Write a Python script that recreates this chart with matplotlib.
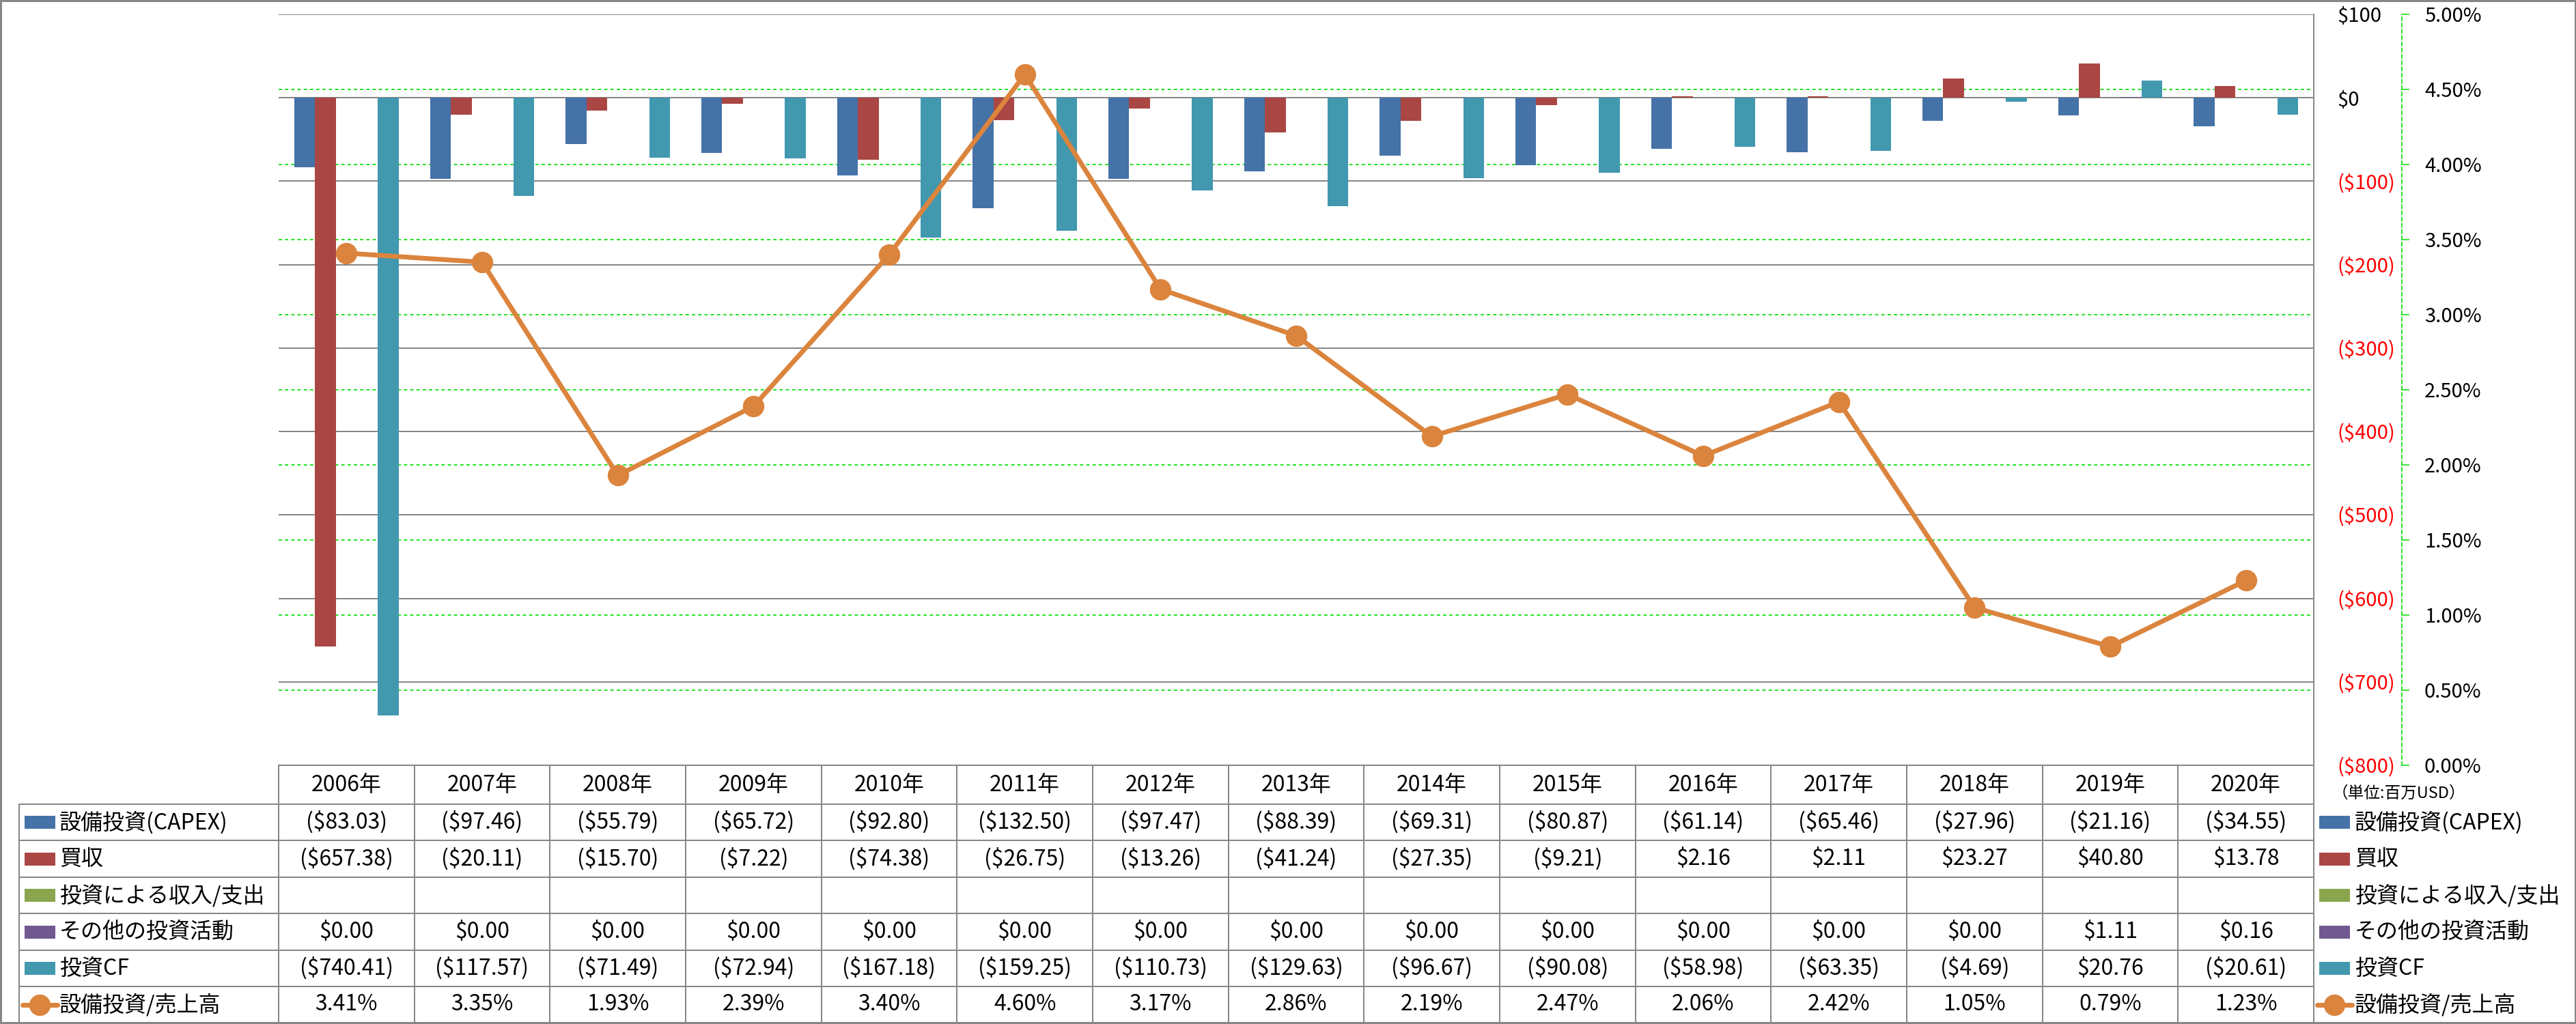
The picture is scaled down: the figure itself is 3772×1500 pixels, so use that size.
import matplotlib
matplotlib.use('Agg')
import matplotlib.pyplot as plt
import numpy as np
from matplotlib.lines import Line2D
from matplotlib.patches import Rectangle
from matplotlib.transforms import blended_transform_factory

plt.rcParams['font.family'] = ['Noto Sans CJK JP', 'DejaVu Sans']

# data (百万USD)
years = [2006, 2007, 2008, 2009, 2010, 2011, 2012, 2013, 2014, 2015, 2016, 2017, 2018, 2019, 2020]
year_labels = [f'{y}年' for y in years]
capex = [-83.03, -97.46, -55.79, -65.72, -92.80, -132.50, -97.47, -88.39, -69.31, -80.87, -61.14, -65.46, -27.96, -21.16, -34.55]
acquisitions = [-657.38, -20.11, -15.70, -7.22, -74.38, -26.75, -13.26, -41.24, -27.35, -9.21, 2.16, 2.11, 23.27, 40.80, 13.78]
invest_income = [None] * 15
other_invest = [0, 0, 0, 0, 0, 0, 0, 0, 0, 0, 0, 0, 0, 1.11, 0.16]
invest_cf = [-740.41, -117.57, -71.49, -72.94, -167.18, -159.25, -110.73, -129.63, -96.67, -90.08, -58.98, -63.35, -4.69, 20.76, -20.61]
capex_ratio = [3.41, 3.35, 1.93, 2.39, 3.40, 4.60, 3.17, 2.86, 2.19, 2.47, 2.06, 2.42, 1.05, 0.79, 1.23]

bar_names = ['設備投資(CAPEX)', '買収', '投資による収入/支出', 'その他の投資活動', '投資CF']
bar_series = [capex, acquisitions, invest_income, other_invest, invest_cf]
line_name = '設備投資/売上高'
unit_text = '（単位:百万USD）'

dollar_ticks = list(range(-800, 101, 100))
pct_ticks = [i * 0.5 for i in range(11)]

colors = ['#4572A7', '#AA4643', '#89A54E', '#71588F', '#4198AF']
line_color = '#DB843D'
gray = '#868686'
green = '#00DD00'

# layout in pixels
W, H, DPI = 3773, 1500, 100
PX = 72 / DPI


def fx(p):
    return p / W


def fy(p):
    return 1 - p / H


plot_l, plot_r, plot_t, plot_b = 408, 3388, 21, 1121
label_l = 28
row_edges = [1121, 1178, 1231, 1285, 1338, 1392, 1445, 1498]
font_table = 23
font_tick = 21

fig = plt.figure(figsize=(W / DPI, H / DPI), dpi=DPI)
rect = [fx(plot_l), fy(plot_b), fx(plot_r) - fx(plot_l), fy(plot_t) - fy(plot_b)]
axp = fig.add_axes(rect, zorder=0)
ax = fig.add_axes(rect, zorder=1)
axl = fig.add_axes(rect, zorder=2)

x = np.arange(len(years))
for a in (axp, ax, axl):
    a.set_xlim(-0.5, len(years) - 0.5)
    a.set_xticks([])
    a.patch.set_visible(False)

# percent axis (behind the bars)
axp.set_ylim(0, 5)
axp.yaxis.tick_right()
axp.set_yticks(pct_ticks, labels=[f'{v:.2f}%' for v in pct_ticks])
axp.tick_params(axis='y', direction='out', length=11 * PX, width=1.5 * PX, color=green,
                pad=22 * PX, labelsize=font_tick)
axp.grid(True, axis='y', color=green, linestyle=(0, (3, 2.5)), linewidth=1.2)
for s in ['left', 'top', 'bottom']:
    axp.spines[s].set_visible(False)
axp.spines['right'].set_position(('outward', 129 * PX))
axp.spines['right'].set_color(green)
axp.spines['right'].set_linestyle((0, (3, 2.5)))
axp.spines['right'].set_linewidth(1.2)

# dollar axis with the bars
ax.set_ylim(-800, 100)
ax.yaxis.tick_right()
ax.set_yticks(dollar_ticks,
              labels=[f'${v}' if v >= 0 else f'(${-v})' for v in dollar_ticks])
ax.tick_params(axis='y', length=0, pad=(3422 - plot_r) * PX, labelsize=font_tick)
for tick, v in zip(ax.yaxis.get_major_ticks(), dollar_ticks):
    for lbl in (tick.label1, tick.label2):
        lbl.set_color('#FF0000' if v < 0 else 'black')
ax.grid(True, axis='y', color=gray, linewidth=2 * PX)
ax.set_axisbelow(True)
for s in ['left', 'top', 'bottom']:
    ax.spines[s].set_visible(False)
ax.spines['right'].set_color(gray)
ax.spines['right'].set_linewidth(2 * PX)

bw = 1 / 6.5
for k, (vals, c) in enumerate(zip(bar_series, colors)):
    h = np.array([np.nan if v is None else v for v in vals], dtype=float)
    ax.bar(x + (k - 2) * bw, h, width=bw, color=c, linewidth=0, zorder=2)

# ratio line
axl.set_ylim(0, 5)
axl.axis('off')
axl.plot(x, capex_ratio, color=line_color, linewidth=7 * PX, marker='o',
         markersize=30 * PX, markerfacecolor=line_color, markeredgecolor=line_color)

# data table
col_tr = blended_transform_factory(ax.transData, fig.transFigure)
line_kw = dict(color=gray, linewidth=2 * PX)
fig.add_artist(Line2D([fx(plot_l), fx(plot_r)], [fy(row_edges[0])] * 2, **line_kw))
for r in row_edges[1:]:
    fig.add_artist(Line2D([fx(label_l), fx(plot_r)], [fy(r)] * 2, **line_kw))
fig.add_artist(Line2D([fx(label_l)] * 2, [fy(row_edges[1]), fy(row_edges[-1])], **line_kw))
for i in range(len(years) + 1):
    fig.add_artist(Line2D([i - 0.5] * 2, [fy(row_edges[0]), fy(row_edges[-1])],
                          transform=col_tr, **line_kw))


def money(v):
    if v is None:
        return ''
    if v < 0:
        return f'(${-v:,.2f})'
    return f'${v:,.2f}'


row_centers = [(row_edges[i] + row_edges[i + 1]) / 2 for i in range(len(row_edges) - 1)]
table_rows = [year_labels] + [[money(v) for v in s] for s in bar_series] + \
             [[f'{v:.2f}%' for v in capex_ratio]]
for yc, row in zip(row_centers, table_rows):
    for i, txt in enumerate(row):
        fig.text(i, fy(yc), txt, transform=col_tr, ha='center', va='center',
                 fontsize=font_table)

# legend keys (inside the table and at the right)
entries = list(zip(bar_names, colors)) + [(line_name, None)]
for yc, (name, c) in zip(row_centers[1:], entries):
    for sx, tx in ((36, 87), (3396, 3448)):
        if c is not None:
            fig.add_artist(Rectangle((fx(sx), fy(yc + 9.5)), 45 / W, 19 / H,
                                     transform=fig.transFigure, color=c, linewidth=0))
        else:
            fig.add_artist(Line2D([fx(sx - 3), fx(sx + 48)], [fy(yc)] * 2, color=line_color,
                                  linewidth=7 * PX, solid_capstyle='round'))
            fig.add_artist(Line2D([fx(sx + 22.5)], [fy(yc)], color=line_color, marker='o',
                                  markersize=30 * PX, linewidth=0))
        fig.text(fx(tx), fy(yc), name, ha='left', va='center', fontsize=font_table)

fig.text(fx(3415), fy(1162), unit_text, ha='left', va='center', fontsize=17)

# outer frame
fig.add_artist(Rectangle((0, 0), 1, 1, transform=fig.transFigure, fill=False,
                         edgecolor=gray, linewidth=6 * PX))

fig.savefig('out.png', dpi=DPI)
